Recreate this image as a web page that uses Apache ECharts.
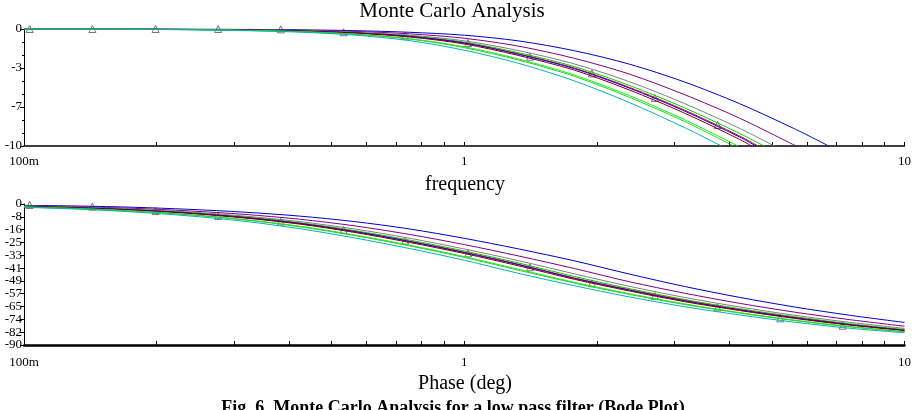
<!DOCTYPE html>
<html>
<head>
<meta charset="utf-8">
<script src="https://cdn.jsdelivr.net/npm/echarts@6/dist/echarts.min.js"></script>
<style>
  html, body { margin: 0; padding: 0; background: #fff; }
  #chart { width: 914px; height: 410px; }
</style>
</head>
<body>
<div id="chart"></div>
<script>
// magnitude (dB), read at 8 points per decade
const magFreq = [0.1, 0.133, 0.178, 0.237, 0.316, 0.422, 0.562, 0.75, 1, 1.33, 1.78, 2.37, 3.16, 4.22, 5.62];
const magBlue    = [0, 0, -0.01, -0.01, -0.03, -0.07, -0.14, -0.28, -0.53, -1.02, -1.86, -3.0, -4.52, -6.38, -8.52];
const magPurple  = [0, 0, -0.01, -0.02, -0.05, -0.11, -0.21, -0.41, -0.79, -1.47, -2.51, -3.85, -5.6, -7.62, null];
const magGray    = [0, -0.01, -0.01, -0.03, -0.07, -0.14, -0.28, -0.53, -1.01, -1.85, -2.99, -4.5, -6.36, -8.49, null];
const magGreen   = [0, -0.01, -0.01, -0.04, -0.07, -0.16, -0.31, -0.59, -1.12, -2.03, -3.22, -4.82, -6.73, -8.92, null];
const magRed     = [0, -0.01, -0.01, -0.04, -0.08, -0.17, -0.32, -0.62, -1.18, -2.13, -3.34, -4.98, -6.92, -9.14, null];
const magNavy    = [0, -0.01, -0.01, -0.04, -0.08, -0.17, -0.33, -0.63, -1.2, -2.17, -3.39, -5.05, -7.0, -9.23, null];
const magDarkRed = [0, -0.01, -0.01, -0.04, -0.09, -0.18, -0.35, -0.68, -1.28, -2.27, -3.52, -5.21, -7.18, -9.43, null];
const magGreen2  = [0, -0.01, -0.02, -0.05, -0.11, -0.22, -0.43, -0.82, -1.52, -2.57, -3.94, -5.69, -7.74, null, null];
const magLime    = [0, -0.01, -0.02, -0.06, -0.12, -0.23, -0.45, -0.86, -1.59, -2.66, -4.05, -5.83, -7.89, null, null];
const magCyan    = [0, -0.01, -0.03, -0.07, -0.14, -0.27, -0.52, -0.99, -1.81, -2.94, -4.44, -6.28, -8.41, null, null];
// frequency where each trace leaves the plot at -10 dB
const magExit = [6.73, 5.67, 5.06, 4.8, 4.65, 4.6, 4.49, 4.19, 4.09, 3.84];

// phase (deg)
const phaseFreq = [0.1, 0.133, 0.178, 0.237, 0.316, 0.422, 0.562, 0.75, 1, 1.33, 1.78, 2.37, 3.16, 4.22, 5.62, 7.5, 10];
const phBlue    = [-0.9, -1.3, -2.1, -3.4, -5.2, -7.7, -11.2, -15.9, -21.9, -28.7, -36.3, -44.7, -52.6, -59.6, -65.7, -71.0, -75.6];
const phPurple  = [-1.1, -1.8, -2.8, -4.4, -6.6, -9.7, -13.9, -19.4, -25.9, -33.2, -41.2, -49.6, -56.9, -63.4, -69.0, -73.8, -78.0];
const phGray    = [-1.3, -2.1, -3.3, -5.1, -7.7, -11.2, -15.9, -21.8, -28.7, -36.2, -44.6, -52.5, -59.6, -65.7, -71.0, -75.5, -79.4];
const phGreen   = [-1.4, -2.3, -3.6, -5.5, -8.2, -11.9, -16.9, -23.0, -30.0, -37.7, -46.3, -54.0, -60.9, -66.8, -71.9, -76.4, -80.1];
const phRed     = [-1.5, -2.4, -3.7, -5.7, -8.5, -12.3, -17.4, -23.7, -30.7, -38.5, -47.2, -54.7, -61.5, -67.4, -72.4, -76.9, -80.5];
const phNavy    = [-1.5, -2.4, -3.8, -5.8, -8.6, -12.4, -17.6, -23.9, -31.0, -38.8, -47.5, -55.0, -61.8, -67.6, -72.6, -77.0, -80.6];
const phDarkRed = [-1.6, -2.5, -4.0, -6.0, -8.9, -12.8, -18.1, -24.5, -31.6, -39.5, -48.1, -55.5, -62.3, -68.0, -73.0, -77.3, -80.8];
const phGreen2  = [-1.8, -2.9, -4.5, -6.7, -9.9, -14.1, -19.7, -26.2, -33.6, -41.7, -50.0, -57.2, -63.7, -69.3, -74.1, -78.2, -81.5];
const phLime    = [-1.9, -3.0, -4.6, -6.9, -10.1, -14.5, -20.1, -26.7, -34.1, -42.3, -50.5, -57.7, -64.1, -69.6, -74.4, -78.4, -81.6];
const phCyan    = [-2.1, -3.3, -5.1, -7.6, -11.0, -15.7, -21.6, -28.4, -35.9, -44.3, -52.2, -59.3, -65.5, -70.8, -75.4, -79.3, -82.2];

// triangle markers on the nominal trace
const markFreq = [0.103, 0.143, 0.199, 0.276, 0.383, 0.532, 0.734, 1.02, 1.41, 1.95, 2.71, 3.76, 5.22, 7.24];
const markMag = [0, 0, 0, 0, -0.03, -0.28, -0.57, -1.2, -2.37, -3.8, -5.9, -8.2];
const markPhase = [-0.6, -1.7, -4.5, -7.7, -11.3, -16.6, -23.4, -31.5, -40.4, -50.6, -58.7, -66, -73, -77.7];

const colors = ["#0000c8", "#800080", "#808080", "#00d000", "#ff0000", "#0000ff", "#800000", "#00ff00", "#40c040", "#00b4b4"];
const magCurves = [magBlue, magPurple, magGray, magGreen, magRed, magNavy, magDarkRed, magGreen2, magLime, magCyan];
const phCurves = [phBlue, phPurple, phGray, phGreen, phRed, phNavy, phDarkRed, phGreen2, phLime, phCyan];

const font = "'Liberation Serif', 'DejaVu Serif', serif";
const logTicks = [0.1, 0.2, 0.3, 0.4, 0.5, 0.6, 0.7, 0.8, 0.9, 1, 2, 3, 4, 5, 6, 7, 8, 9, 10];

const chart = echarts.init(document.getElementById("chart"));

const series = [];
magCurves.forEach((vals, i) => {
  const data = [];
  vals.forEach((v, j) => { if (v !== null) data.push([magFreq[j], v]); });
  data.push([magExit[i], -10]);
  series.push({
    type: "line", xAxisIndex: 0, yAxisIndex: 0, data,
    smooth: 0.3, showSymbol: false,
    lineStyle: { color: colors[i], width: 1 }, silent: true
  });
});
phCurves.forEach((vals, i) => {
  series.push({
    type: "line", xAxisIndex: 1, yAxisIndex: 1,
    data: vals.map((v, j) => [phaseFreq[j], v]),
    smooth: 0.3, showSymbol: false,
    lineStyle: { color: colors[i], width: 1 }, silent: true
  });
});
const triStyle = { color: "rgba(0,0,0,0)", borderColor: "#556", borderWidth: 1 };
series.push({
  type: "scatter", xAxisIndex: 0, yAxisIndex: 0, symbol: "triangle", symbolSize: 7,
  data: markMag.map((v, j) => [markFreq[j], v]), itemStyle: triStyle, silent: true
});
series.push({
  type: "scatter", xAxisIndex: 1, yAxisIndex: 1, symbol: "triangle", symbolSize: 7,
  data: markPhase.map((v, j) => [markFreq[j], v]), itemStyle: triStyle, silent: true
});

function xAxisFor(grid, lineWidth, margin) {
  return {
    type: "log", logBase: 10, min: 0.1, max: 10, gridIndex: grid,
    axisLine: { onZero: false, lineStyle: { color: "#000", width: lineWidth } },
    axisTick: { show: true, inside: true, length: 4, customValues: logTicks, lineStyle: { color: "#000" } },
    minorTick: { show: false },
    splitLine: { show: false },
    axisLabel: {
      margin, color: "#000", fontFamily: font, fontSize: 13,
      formatter: (v) => (v < 0.5 ? "100m" : String(Math.round(v)))
    }
  };
}

function yAxisFor(grid, min, interval, minor) {
  return {
    type: "value", gridIndex: grid, min, max: 0, interval,
    axisLine: { show: true, lineStyle: { color: "#000", width: 1 } },
    axisTick: { show: true, length: 4, lineStyle: { color: "#000" } },
    minorTick: { show: minor, splitNumber: 3, length: 2, lineStyle: { color: "#000" } },
    splitLine: { show: false },
    axisLabel: {
      margin: 2, color: "#000", fontFamily: font, fontSize: 13,
      formatter: (v) => String(Math.round(v))
    }
  };
}

const option = {
  animation: false,
  backgroundColor: "#fff",
  grid: [
    { left: 24, right: 5, top: 29, height: 117 },
    { left: 24, right: 5, top: 204, height: 141 }
  ],
  xAxis: [xAxisFor(0, 1.5, 9), xAxisFor(1, 2.5, 11)],
  yAxis: [yAxisFor(0, -10, 10 / 3, true), yAxisFor(1, -90, 90 / 11, false)],
  graphic: [
    { type: "text", x: 452, y: 11, style: { text: "Monte Carlo Analysis", font: "21px " + font, fill: "#000", align: "center", verticalAlign: "middle" } },
    { type: "text", x: 465, y: 185, style: { text: "frequency", font: "20px " + font, fill: "#000", align: "center", verticalAlign: "middle" } },
    { type: "text", x: 465, y: 384, style: { text: "Phase (deg)", font: "20px " + font, fill: "#000", align: "center", verticalAlign: "middle" } },
    { type: "text", x: 453, y: 408, style: { text: "Fig. 6. Monte Carlo Analysis for a low pass filter (Bode Plot)", font: "bold 18px " + font, fill: "#000", align: "center", verticalAlign: "middle" } }
  ],
  series
};

chart.setOption(option);
window.addEventListener("resize", () => chart.resize());
</script>
</body>
</html>
